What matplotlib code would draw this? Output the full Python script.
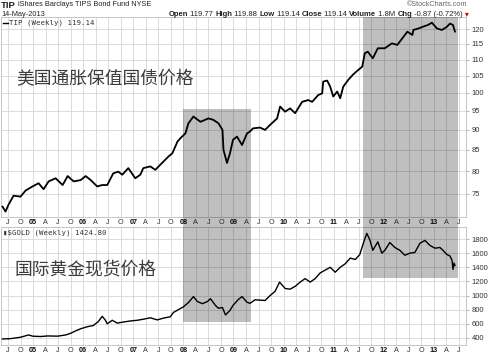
import matplotlib
matplotlib.use("Agg")
import matplotlib.pyplot as plt
from matplotlib.patches import Rectangle
from matplotlib.lines import Line2D
from matplotlib.ticker import FixedLocator, NullLocator, FixedFormatter

# ---------------- data (decimal years) ----------------
tip_t = [2004.39, 2004.45, 2004.51, 2004.61, 2004.75, 2004.85, 2004.99, 2005.11, 2005.21, 2005.31,
         2005.45, 2005.59, 2005.69, 2005.81, 2005.95, 2006.05, 2006.15, 2006.28, 2006.38, 2006.48,
         2006.60, 2006.70, 2006.78, 2006.90, 2007.04, 2007.14, 2007.20, 2007.34, 2007.44, 2007.54,
         2007.60, 2007.70, 2007.78, 2007.88, 2007.94, 2008.04, 2008.10, 2008.20, 2008.34, 2008.50,
         2008.60, 2008.70, 2008.78, 2008.80, 2008.87, 2008.93, 2008.99, 2009.07, 2009.17, 2009.27,
         2009.33, 2009.39, 2009.53, 2009.63, 2009.73, 2009.87, 2009.93, 2010.03, 2010.13, 2010.23,
         2010.37, 2010.49, 2010.57, 2010.69, 2010.77, 2010.79, 2010.87, 2010.93, 2010.99, 2011.07,
         2011.13, 2011.19, 2011.29, 2011.38, 2011.49, 2011.57, 2011.62, 2011.68, 2011.78, 2011.88,
         2012.02, 2012.16, 2012.27, 2012.37, 2012.47, 2012.57, 2012.59, 2012.69, 2012.78, 2012.88,
         2012.96, 2013.06, 2013.16, 2013.26, 2013.32, 2013.38, 2013.42]
tip_v = [72.3, 71.3, 72.7, 74.6, 74.4, 75.7, 76.6, 77.3, 76.0, 77.7,
         78.4, 76.9, 78.9, 77.7, 78.0, 78.9, 78.0, 76.6, 76.9, 76.9,
         79.5, 79.9, 79.2, 80.7, 78.4, 79.2, 80.7, 81.1, 80.3, 81.5,
         82.2, 83.4, 84.2, 87.0, 87.9, 89.1, 91.7, 93.5, 92.1, 93.0,
         92.6, 91.7, 90.0, 85.0, 81.9, 84.2, 87.5, 88.3, 86.2, 89.1,
         89.6, 90.4, 90.6, 90.0, 91.3, 93.0, 96.2, 94.8, 95.7, 94.4,
         97.5, 98.0, 97.5, 99.4, 99.9, 103.3, 103.6, 101.8, 99.0, 100.4,
         98.5, 101.8, 103.8, 105.3, 106.8, 107.8, 112.0, 112.5, 110.4, 113.6,
         113.6, 115.2, 114.7, 116.9, 119.1, 118.0, 119.7, 120.2, 120.8, 121.4,
         122.2, 120.2, 119.7, 120.8, 121.9, 121.4, 119.14]

gold_t = [2004.39, 2004.55, 2004.75, 2004.91, 2004.99, 2005.15, 2005.29, 2005.49, 2005.65, 2005.75,
          2005.85, 2005.95, 2006.09, 2006.20, 2006.30, 2006.38, 2006.44, 2006.48, 2006.58, 2006.68,
          2006.80, 2006.94, 2007.08, 2007.20, 2007.34, 2007.48, 2007.60, 2007.74, 2007.80, 2007.90,
          2008.00, 2008.10, 2008.20, 2008.28, 2008.38, 2008.48, 2008.54, 2008.64, 2008.70, 2008.78,
          2008.84, 2008.93, 2008.99, 2009.09, 2009.17, 2009.27, 2009.33, 2009.43, 2009.53, 2009.63,
          2009.73, 2009.83, 2009.92, 2010.03, 2010.13, 2010.23, 2010.33, 2010.43, 2010.53, 2010.63,
          2010.73, 2010.83, 2010.93, 2011.03, 2011.13, 2011.23, 2011.33, 2011.43, 2011.52, 2011.60,
          2011.66, 2011.72, 2011.78, 2011.88, 2011.96, 2012.02, 2012.12, 2012.22, 2012.32, 2012.42,
          2012.52, 2012.62, 2012.72, 2012.82, 2012.92, 2013.02, 2013.12, 2013.18, 2013.26, 2013.32,
          2013.36, 2013.38, 2013.40, 2013.42]
gold_v = [385, 390, 410, 442, 425, 420, 428, 425, 442, 466,
          500, 530, 560, 575, 630, 705, 655, 600, 650, 610,
          625, 640, 650, 665, 685, 655, 680, 700, 760, 800,
          840, 900, 985, 915, 885, 915, 955, 860, 820, 830,
          725, 790, 860, 940, 985, 905, 890, 940, 935, 930,
          1000, 1060, 1190, 1100, 1090, 1130, 1190, 1240, 1190, 1240,
          1320, 1360, 1400, 1330, 1400, 1450, 1530, 1510, 1580, 1760,
          1880, 1790, 1640, 1760, 1600, 1640, 1750, 1680, 1640, 1570,
          1600, 1610, 1740, 1780, 1710, 1670, 1680, 1640, 1580, 1560,
          1500, 1370, 1460, 1424.8]

tip_ticks = [75, 80, 85, 90, 95, 100, 105, 110, 115, 120]
gold_ticks = [400, 600, 800, 1000, 1200, 1400, 1600, 1800]
first_year, last_year = 2004, 2013

# highlighted periods: (start, end, TIP top value or None=top, GOLD bottom value)
highlights = [(2008.0, 2009.34, 95.6, 626), (2011.58, 2013.48, None, 1248)]

title_cn_top = "美国通胀保值国债价格"
title_cn_bot = "国际黄金现货价格"

# ---------------- figure ----------------
W, H = 496, 359
fig = plt.figure(figsize=(W / 100, H / 100), dpi=100)
fig.patch.set_facecolor("white")


def ax_rect(l, t, r, b):
    return [l / W, 1 - b / H, (r - l) / W, (b - t) / H]


def px(x, y):
    return x / W, 1 - y / H


ax1 = fig.add_axes(ax_rect(1, 17, 466, 217))
ax2 = fig.add_axes(ax_rect(1, 227, 466, 345))

# x ticks: quarterly
qticks, qlabels = [], []
for y in range(first_year, last_year + 1):
    for q, lab in [(0.0, "%02d" % (y % 100)), (0.25, "A"), (0.5, "J"), (0.75, "O")]:
        v = y + q
        if 2004.4 < v < 2013.6:
            qticks.append(v)
            qlabels.append(lab)

grid_c = "#d6d6d6"
for ax in (ax1, ax2):
    ax.set_xlim(2004.36, 2013.64)
    ax.set_xticks(qticks)
    ax.set_xticklabels(qlabels)
    ax.tick_params(axis="x", length=0, pad=1.5, labelsize=5.2, labelcolor="#333333")
    for lab in ax.get_xticklabels():
        lab.set_family("Liberation Sans")
        if lab.get_text().isdigit():
            lab.set_fontweight("bold")
            lab.set_color("#111111")
    ax.yaxis.tick_right()
    ax.tick_params(axis="y", length=2, width=0.5, color="#999999", pad=2,
                   labelsize=5.5, labelcolor="#333333")
    ax.grid(True, color=grid_c, lw=0.6)
    ax.set_axisbelow(True)
    for s in ax.spines.values():
        s.set_color("#bdbdbd")
        s.set_linewidth(0.6)

# top panel: TIP, log scale
ax1.plot(tip_t, tip_v, color="black", lw=1.3, zorder=3)
ax1.set_yscale("log")
ax1.set_ylim(70.2, 124.2)
ax1.yaxis.set_major_locator(FixedLocator(tip_ticks))
ax1.yaxis.set_major_formatter(FixedFormatter([str(v) for v in tip_ticks]))
ax1.yaxis.set_minor_locator(NullLocator())

# bottom panel: GOLD, linear
ax2.plot(gold_t, gold_v, color="black", lw=1.0, zorder=3)
ax2.set_ylim(300, 1970)
ax2.set_yticks(gold_ticks)
ax2.set_yticklabels([str(v) for v in gold_ticks])

for ax in (ax1, ax2):
    for lab in ax.get_yticklabels():
        lab.set_family("Liberation Sans")

# in-panel legends
ax1.add_line(Line2D([0.004, 0.016], [0.972, 0.972], transform=ax1.transAxes, color="black", lw=1.0))
ax1.text(0.018, 0.972, "TIP (Weekly) 119.14", transform=ax1.transAxes, fontsize=5.3,
         family="DejaVu Sans Mono", color="#333333", va="center", ha="left")
ax2.text(0.004, 0.955, "▮$GOLD (Weekly) 1424.80", transform=ax2.transAxes, fontsize=5.3,
         family="DejaVu Sans Mono", color="#333333", va="center", ha="left")

# Chinese annotations
fig.text(*px(16, 79), title_cn_top, fontsize=12.8, family=["Noto Sans CJK SC", "DejaVu Sans"],
         color="#3c3c3c", va="center", ha="left")
fig.text(*px(14, 269), title_cn_bot, fontsize=12.8, family=["Noto Sans CJK SC", "DejaVu Sans"],
         color="#3c3c3c", va="center", ha="left")

# header texts
r = fig.canvas.get_renderer()


def run(parts, x, y, align="left", size=5.5):
    texts = []
    for s, kw in parts:
        t = fig.text(0, 0, s, fontsize=kw.get("size", size), fontweight=kw.get("weight", "normal"),
                     color=kw.get("color", "#222222"), family=kw.get("family", "Liberation Sans"),
                     va="center", ha="left")
        texts.append(t)
    widths = [t.get_window_extent(renderer=r).width for t in texts]
    cur = x if align == "left" else x - sum(widths)
    for t, w in zip(texts, widths):
        t.set_position(px(cur, y))
        cur += w


run([("TIP", {"weight": "bold", "size": 6.8}),
     (" iShares Barclays TIPS Bond Fund NYSE", {"size": 5.3})], 1, 5)
run([("14-May-2013", {"size": 5.3})], 1, 14)
run([("Open", {"weight": "bold"}), (" 119.77 ", {}),
     ("High", {"weight": "bold"}), (" 119.88 ", {}),
     ("Low", {"weight": "bold"}), (" 119.14 ", {}),
     ("Close", {"weight": "bold"}), (" 119.14 ", {}),
     ("Volume", {"weight": "bold"}), (" 1.8M ", {}),
     ("Chg", {"weight": "bold"}), (" -0.87 (-0.72%) ", {}),
     ("▾", {"color": "#cc0000", "family": "DejaVu Sans"})], 469, 14, align="right")
fig.text(*px(467, 4), "©StockCharts.com", fontsize=5.2, family="Liberation Sans",
         color="#666666", va="center", ha="right")

# highlight boxes spanning both panels (defined in data coordinates)
inv = fig.transFigure.inverted()
for x0, x1, top_val, bot_val in highlights:
    if top_val is None:
        top_fig = inv.transform(ax1.transAxes.transform((0, 1)))[1]
    else:
        top_fig = inv.transform(ax1.transData.transform((x0, top_val)))[1]
    bot_fig = inv.transform(ax2.transData.transform((x0, bot_val)))[1]
    left_fig = inv.transform(ax1.transData.transform((x0, 100)))[0]
    right_fig = inv.transform(ax1.transData.transform((x1, 100)))[0]
    fig.patches.append(Rectangle((left_fig, bot_fig), right_fig - left_fig, top_fig - bot_fig,
                                 transform=fig.transFigure, facecolor="black", alpha=0.25,
                                 edgecolor="none", zorder=10))

fig.savefig("out.png", dpi=100)
